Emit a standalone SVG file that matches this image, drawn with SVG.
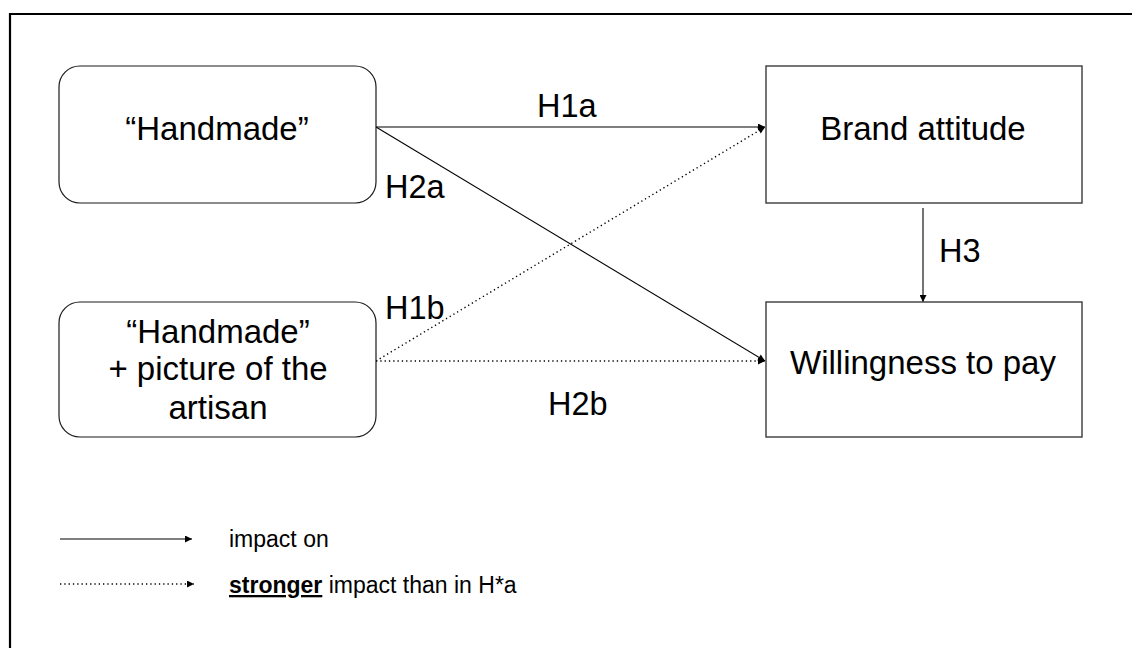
<svg xmlns="http://www.w3.org/2000/svg" width="1132" height="648" viewBox="0 0 1132 648">
  <style>
    .box { fill: #ffffff; stroke: #3a3a3a; stroke-width: 1.4; }
    .rbox { fill: #ffffff; stroke: #1a1a1a; stroke-width: 1.2; }
    .t { font-family: "Liberation Sans", Arial, sans-serif; font-size: 33px; fill: #000000; }
    .lbl { font-family: "Liberation Sans", Arial, sans-serif; font-size: 32.5px; fill: #000000; }
    .leg { font-family: "Liberation Sans", Arial, sans-serif; font-size: 23px; fill: #000000; }
    .solid { stroke: #000000; stroke-width: 1.1; fill: none; }
    .dot { stroke: #000000; stroke-width: 1.4; fill: none; stroke-dasharray: 1.3 3; }
  </style>
  <defs>
    <marker id="ah" viewBox="0 0 10 10" refX="10" refY="5" markerWidth="9" markerHeight="7" markerUnits="userSpaceOnUse" orient="auto">
      <path d="M0,0 L10,5 L0,10 Z" fill="#000000"/>
    </marker>
  </defs>
  <rect width="1132" height="648" fill="#ffffff"/>
  <path d="M10,648 V14 H1132" fill="none" stroke="#000000" stroke-width="2.2"/>

  <g id="connectors">
    <line class="solid" x1="376" y1="127" x2="765" y2="127" marker-end="url(#ah)"/>
    <line class="solid" x1="376" y1="127" x2="765" y2="361" marker-end="url(#ah)"/>
    <line class="dot" x1="376" y1="361" x2="765" y2="127" marker-end="url(#ah)"/>
    <line class="dot" x1="376" y1="361" x2="765" y2="361" marker-end="url(#ah)"/>
    <line class="solid" x1="923" y1="208" x2="923" y2="302" marker-end="url(#ah)"/>
    <text class="lbl" x="537" y="117">H1a</text>
    <text class="lbl" x="385" y="198">H2a</text>
    <text class="lbl" x="385" y="319">H1b</text>
    <text class="lbl" x="548" y="415">H2b</text>
    <text class="lbl" x="939" y="262">H3</text>
  </g>

  <g id="handmade">
    <rect class="rbox" x="59" y="66" width="317" height="137" rx="21"/>
    <text class="t" x="217" y="140" text-anchor="middle">“Handmade”</text>
  </g>
  <g id="handmade-picture">
    <rect class="rbox" x="59" y="302" width="317" height="135" rx="21"/>
    <text class="t" x="218" y="343" text-anchor="middle">“Handmade”</text>
    <text class="t" x="218" y="380" text-anchor="middle">+ picture of the</text>
    <text class="t" x="218" y="419" text-anchor="middle">artisan</text>
  </g>
  <g id="brand-attitude">
    <rect class="box" x="766" y="66" width="316" height="137"/>
    <text class="t" x="923" y="140" text-anchor="middle">Brand attitude</text>
  </g>
  <g id="willingness">
    <rect class="box" x="766" y="302" width="316" height="135"/>
    <text class="t" x="923" y="374" text-anchor="middle">Willingness to pay</text>
  </g>

  <g id="legend">
    <line class="solid" x1="60" y1="539" x2="192" y2="539" marker-end="url(#ah)"/>
    <text class="leg" x="229" y="547">impact on</text>
    <line class="dot" x1="60" y1="584" x2="194" y2="584" marker-end="url(#ah)"/>
    <text class="leg" x="229" y="593"><tspan font-weight="bold" text-decoration="underline">stronger</tspan> impact than in H*a</text>
  </g>
</svg>
